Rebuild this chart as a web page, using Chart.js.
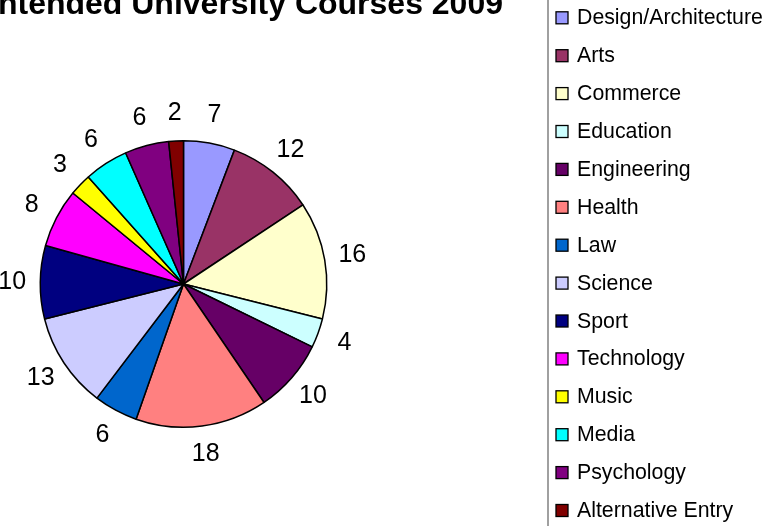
<!DOCTYPE html>
<html>
<head>
<meta charset="utf-8">
<script src="https://cdn.jsdelivr.net/npm/chart.js@4/dist/chart.umd.min.js"></script>
<style>
  html, body { margin: 0; padding: 0; background: #fff; overflow: hidden; }
  #wrap { width: 771px; height: 526px; position: relative; }
</style>
</head>
<body>
<div id="wrap"><canvas id="courseChart" width="771" height="526"></canvas></div>
<script>
const chartTitle = 'Intended University Courses 2009';
const courses = ['Design/Architecture', 'Arts', 'Commerce', 'Education', 'Engineering', 'Health', 'Law',
    'Science', 'Sport', 'Technology', 'Music', 'Media', 'Psychology', 'Alternative Entry'];
const students = [7, 12, 16, 4, 10, 18, 6, 13, 10, 8, 3, 6, 6, 2];
const sliceColours = ['#9999FF', '#993366', '#FFFFCC', '#CCFFFF', '#660066', '#FF8080', '#0066CC',
    '#CCCCFF', '#000080', '#FF00FF', '#FFFF00', '#00FFFF', '#800080', '#800000'];

// Title, value labels and the legend, drawn the old spreadsheet way
const sheetLook = {
    id: 'sheetLook',
    afterDatasetsDraw(chart) {
        const ctx = chart.ctx;
        const arcs = chart.getDatasetMeta(0).data;

        // value labels just outside each slice
        ctx.save();
        ctx.fillStyle = '#000';
        ctx.font = '25px "Liberation Sans", Arial, sans-serif';
        ctx.textAlign = 'center';
        ctx.textBaseline = 'middle';
        arcs.forEach((arc, i) => {
            const p = arc.getProps(['x', 'y', 'startAngle', 'endAngle', 'outerRadius'], true);
            const mid = (p.startAngle + p.endAngle) / 2;
            const r = p.outerRadius + 28;
            ctx.fillText(String(students[i]), p.x + Math.cos(mid) * r, p.y + Math.sin(mid) * r);
        });
        ctx.restore();
    },
    afterDraw(chart) {
        const ctx = chart.ctx;
        ctx.save();

        // title (runs off the top left of the picture)
        ctx.fillStyle = '#000';
        ctx.font = 'bold 32px "Liberation Sans", Arial, sans-serif';
        ctx.textAlign = 'right';
        ctx.textBaseline = 'alphabetic';
        ctx.fillText(chartTitle, 503, 14);

        // legend frame edge
        ctx.strokeStyle = '#808080';
        ctx.lineWidth = 1.5;
        ctx.beginPath();
        ctx.moveTo(548, 0);
        ctx.lineTo(548, 526);
        ctx.stroke();

        // legend entries
        ctx.font = '21.3px "Liberation Sans", Arial, sans-serif';
        ctx.textAlign = 'left';
        ctx.textBaseline = 'alphabetic';
        courses.forEach((name, i) => {
            const base = 24.3 + i * 37.9;
            ctx.fillStyle = sliceColours[i];
            ctx.fillRect(556, base - 12.5, 12, 12);
            ctx.strokeStyle = '#000';
            ctx.lineWidth = 1.3;
            ctx.strokeRect(556, base - 12.5, 12, 12);
            ctx.fillStyle = '#000';
            ctx.fillText(name, 577, base);
        });
        ctx.restore();
    }
};

const chart = new Chart(document.getElementById('courseChart'), {
    type: 'pie',
    data: {
        labels: courses,
        datasets: [{
            data: students,
            backgroundColor: sliceColours,
            borderColor: '#000',
            borderWidth: 1.5
        }]
    },
    options: {
        responsive: false,
        animation: false,
        layout: {
            padding: { left: 39, right: 443, top: 140, bottom: 98 }
        },
        plugins: {
            legend: { display: false },
            title: { display: false },
            tooltip: { enabled: false }
        }
    },
    plugins: [sheetLook]
});
</script>
</body>
</html>
